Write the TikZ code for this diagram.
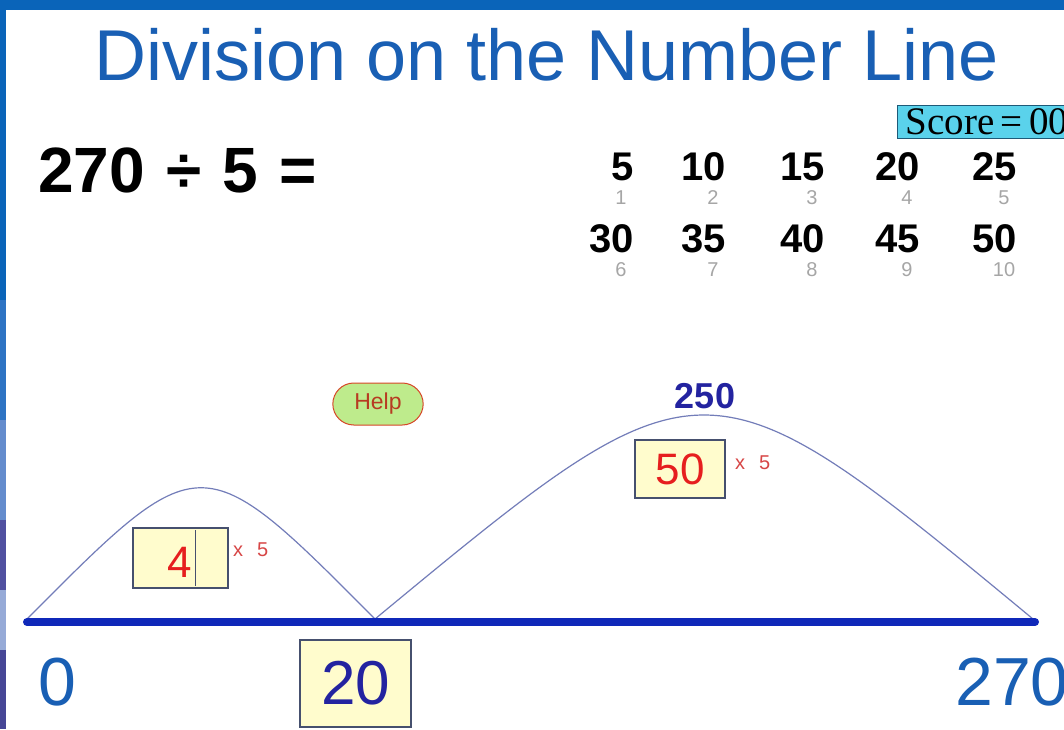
\documentclass[tikz,border=0pt]{standalone}
\usepackage{fontspec}
\setmainfont{Liberation Sans}
\newfontfamily\scorefont{Liberation Serif}
\usetikzlibrary{calc,shapes.misc}
\definecolor{barblue}{RGB}{10,100,185}
\definecolor{stripa}{RGB}{45,115,195}
\definecolor{stripb}{RGB}{100,140,205}
\definecolor{stripc}{RGB}{80,80,160}
\definecolor{stripd}{RGB}{150,170,215}
\definecolor{stripe}{RGB}{70,70,150}
\definecolor{titleblue}{RGB}{25,95,180}
\definecolor{lineblue}{RGB}{15,40,185}
\definecolor{arcblue}{RGB}{115,125,185}
\definecolor{navy}{RGB}{35,35,160}
\definecolor{boxfill}{RGB}{255,252,205}
\definecolor{boxline}{RGB}{70,80,110}
\definecolor{digitred}{RGB}{230,30,30}
\definecolor{timesred}{RGB}{215,70,70}
\definecolor{scorecyan}{RGB}{90,210,235}
\definecolor{scoreline}{RGB}{30,90,120}
\definecolor{helpgreen}{RGB}{190,235,140}
\definecolor{helpred}{RGB}{215,70,40}
\tikzset{
	answer/.style={draw=boxline, line width=1.5pt, fill=boxfill, inner sep=0pt},
	arc/.style={arcblue, line width=1.2pt},
	bignum/.style={font=\fontsize{40}{44}\selectfont\bfseries, anchor=base east, inner sep=0pt},
	smallnum/.style={font=\fontsize{20}{22}\selectfont, black!35, anchor=base, inner sep=0pt},
	times/.style={font=\fontsize{20}{22}\selectfont, timesred, anchor=base west, inner sep=0pt}
}
\begin{document}
\begin{tikzpicture}[x=1pt, y=-1pt]
	\useasboundingbox (0,0) rectangle (1064,729);
	\fill[white] (0,0) rectangle (1064,729);
	\clip (0,0) rectangle (1064,729);
	\fill[barblue] (0,0) rectangle (1064,10);
	\fill[barblue] (0,0) rectangle (6,300);
	\fill[stripa] (0,300) rectangle (6,420);
	\fill[stripb] (0,420) rectangle (6,520);
	\fill[stripc] (0,520) rectangle (6,590);
	\fill[stripd] (0,590) rectangle (6,650);
	\fill[stripe] (0,650) rectangle (6,729);
	\node[titleblue, font=\fontsize{72}{80}\selectfont, anchor=base, inner sep=0pt] (title) at (547,80) {Division on the Number Line};
	\node[font=\fontsize{64}{70}\selectfont\bfseries, anchor=base west, inner sep=0pt] (sum) at (38,192) {270\,\,÷\,\,5\,\,=};
	\node[draw=scoreline, fill=scorecyan, line width=1pt, anchor=north west, minimum width=175, minimum height=33, text width=172, inner sep=0pt, font=\fontsize{39}{40}\selectfont\scorefont] (score) at (897,105) {\,Score\,=\,00};
	\foreach \val/\sub/\xr/\yb [count = \i] in {5/1/634/180, 10/2/726/180, 15/3/825/180, 20/4/920/180, 25/5/1017/180, 30/6/634/252, 35/7/726/252, 40/8/825/252, 45/9/920/252, 50/10/1017/252}{
		\node[bignum] (big\i) at (\xr,\yb) {\val};
		\node[smallnum] (small\i) at (\xr - 13,\yb + 24) {\sub};
	}
	\node[rounded rectangle, draw=helpred, fill=helpgreen, line width=1pt, minimum width=97, minimum height=42, font=\fontsize{23}{25}\selectfont, text=helpred!85!black] (help) at (378,404) {Help};
	\coordinate (p0) at (27,619);
	\coordinate (p20) at (375,619);
	\coordinate (p270) at (1033,619);
	\draw[arc] (p0) .. controls ($(p0)!.5!(p20)+(0,-175)$) and ($(p0)!.5!(p20)+(0,-175)$) .. (p20);
	\draw[arc] (p20) .. controls ($(p20)!.5!(p270)+(0,-272)$) and ($(p20)!.5!(p270)+(0,-272)$) .. (p270);
	\draw[lineblue, line width=8pt, line cap=round] (27,622) -- (1035,622);
	\node[navy, font=\fontsize{36}{40}\selectfont\bfseries, anchor=base, inner sep=0pt] (top250) at (705,408) {250};
	\node[answer, minimum width=95, minimum height=60] (box4) at (180.5,558) {};
	\draw[boxline, line width=.8pt] (195,530) -- (195,586);
	\node[digitred, font=\fontsize{44}{48}\selectfont, anchor=base east, inner sep=0pt] (four) at (192,577) {4};
	\node[times] (x4) at (233,556) {x\hspace{14pt}5};
	\node[answer, minimum width=90, minimum height=58, text=digitred, font=\fontsize{44}{48}\selectfont] (box50) at (680,469) {50};
	\node[times] (x50) at (735,469) {x\hspace{14pt}5};
	\node[answer, minimum width=111, minimum height=87, text=navy, font=\fontsize{62}{66}\selectfont] (box20) at (355.5,683.5) {20};
	\node[titleblue, font=\fontsize{68}{72}\selectfont, anchor=base west, inner sep=0pt] (zero) at (38,705) {0};
	\node[titleblue, font=\fontsize{68}{72}\selectfont, anchor=base west, inner sep=0pt] (end) at (955,705) {270};
\end{tikzpicture}
\end{document}
